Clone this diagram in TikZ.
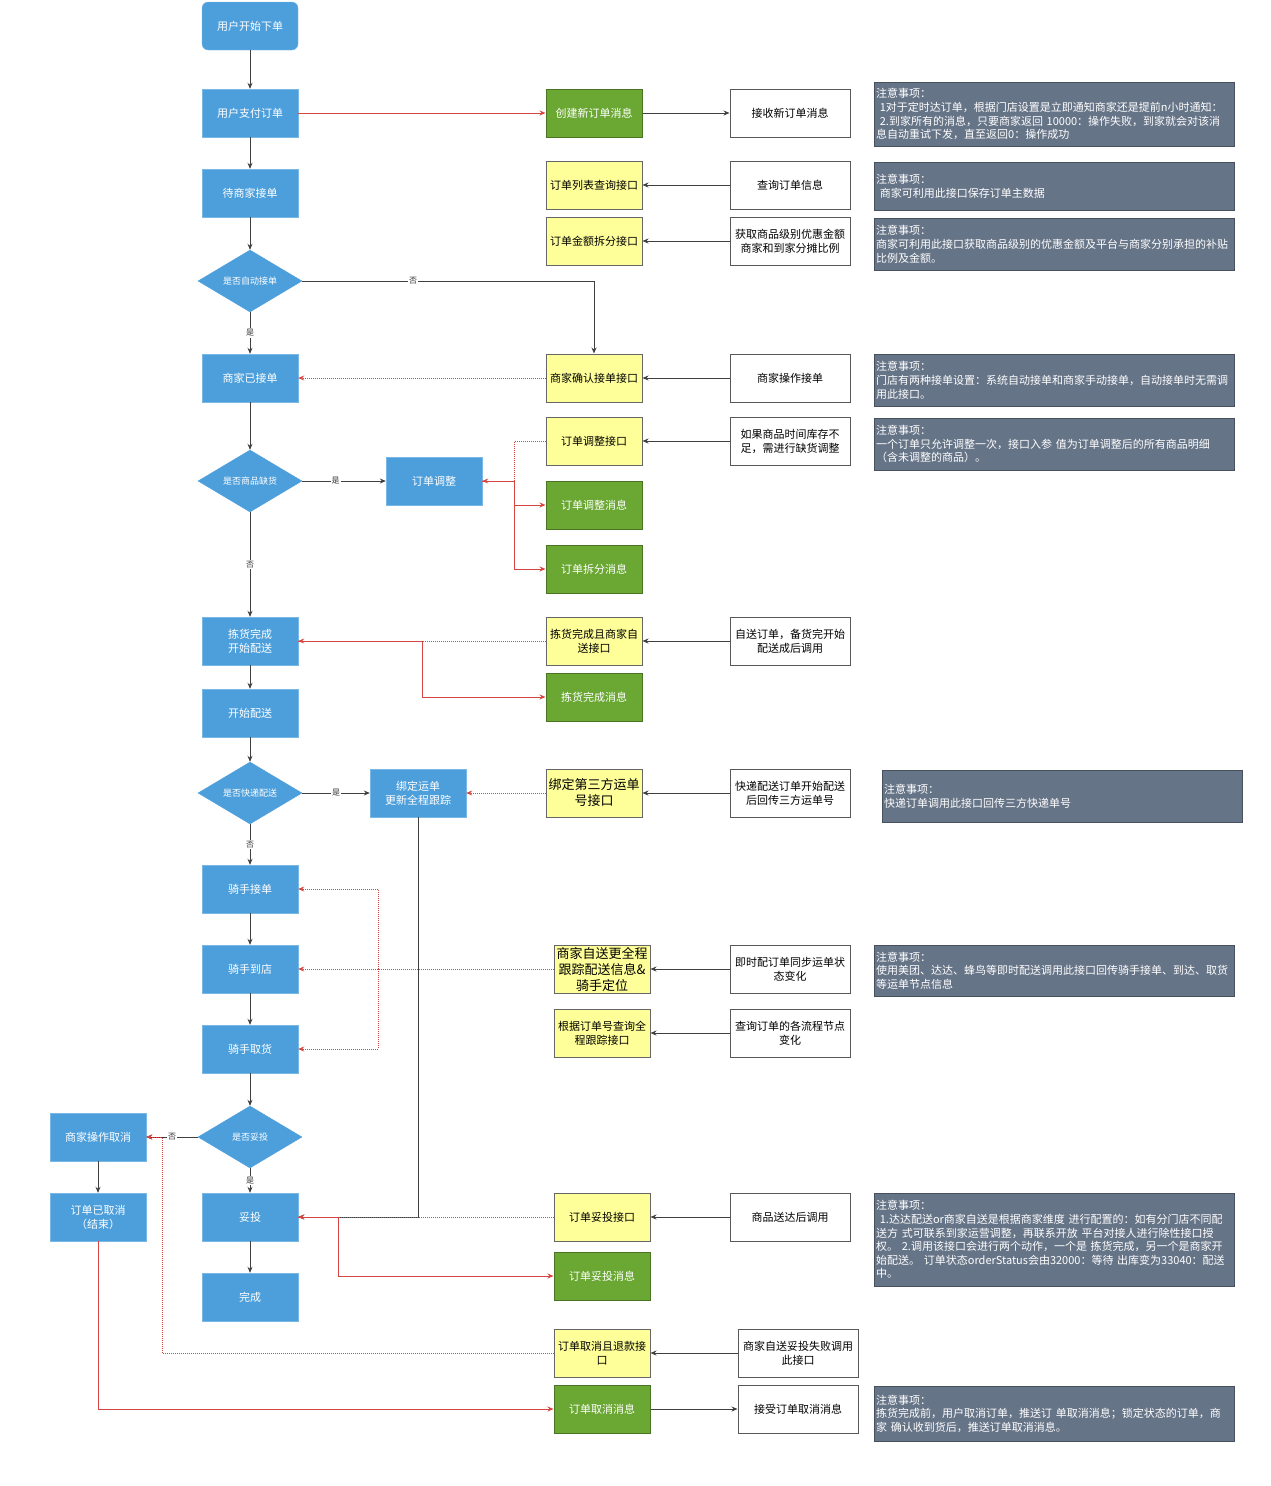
\documentclass[tikz,border=0pt]{standalone}
\usepackage{fontspec}
\setmainfont{Noto Sans CJK SC}
\usetikzlibrary{arrows.meta,shapes.geometric,positioning}

\definecolor{flowblue}{HTML}{4D9FDC}
\definecolor{msggreen}{HTML}{6BA733}
\definecolor{apiyellow}{HTML}{FFFF99}
\definecolor{notegray}{HTML}{667487}
\definecolor{linkred}{HTML}{D64541}

\tikzset{
  flow/.style={draw=flowblue!75!white, fill=flowblue, text=white, minimum width=96, minimum height=48, align=center, font=\fontsize{11}{14}\selectfont},
  cond/.style={diamond, draw=flowblue, fill=flowblue, text=white, aspect=1.68, inner sep=0pt, minimum width=104, minimum height=62, font=\fontsize{9}{11}\selectfont},
  api/.style={draw=black!60, line width=1pt, fill=apiyellow, text=black, minimum width=96, minimum height=48, inner sep=1pt, align=center, font=\fontsize{11}{14}\selectfont},
  bigapi/.style={api, font=\fontsize{13}{16}\selectfont},
  msg/.style={draw=msggreen!70!black, line width=1pt, fill=msggreen, text=white, minimum width=96, minimum height=48, align=center, font=\fontsize{11}{14}\selectfont},
  caller/.style={draw=black!65, line width=1pt, fill=white, text=black, minimum width=120, minimum height=48, inner sep=1pt, align=center, font=\fontsize{11}{14}\selectfont},
  note/.style={draw=notegray!70!black, fill=notegray, text=white, anchor=north west, text width=356, inner xsep=2pt, inner ysep=1pt, align=left, font=\fontsize{11}{13.6}\selectfont},
  flowline/.style={draw=black!75, line width=0.9pt, ->},
  redline/.style={draw=linkred, line width=0.9pt, ->},
  reddot/.style={draw=linkred, line width=0.9pt, dash pattern=on 1pt off 1pt, ->},
  yn/.style={fill=white, text=black!80, inner sep=1pt, font=\fontsize{8}{9}\selectfont}
}

\begin{document}
\begin{tikzpicture}[x=1pt, y=-1pt, >={Stealth[length=6pt,width=5pt]}]
\useasboundingbox (0,0) rectangle (1270,1486);

% main flow
\draw (250,26) node [flow, rounded corners=6pt] (start) {用户开始下单};
\draw (250,113) node [flow] (pay) {用户支付订单};
\draw (250,193) node [flow] (wait) {待商家接单};
\draw (250,281) node [cond] (auto) {是否自动接单};
\draw (250,378) node [flow] (accepted) {商家已接单};
\draw (250,481) node [cond] (lack) {是否商品缺货};
\draw (434,481) node [flow] (adjust) {订单调整};
\draw (250,641) node [flow] (picked) {拣货完成\\开始配送};
\draw (250,713) node [flow] (deliver) {开始配送};
\draw (250,793) node [cond] (express) {是否快递配送};
\draw (418,793) node [flow] (bind) {绑定运单\\更新全程跟踪};
\draw (250,889) node [flow] (rtake) {骑手接单};
\draw (250,969) node [flow] (rarrive) {骑手到店};
\draw (250,1049) node [flow] (rpick) {骑手取货};
\draw (250,1137) node [cond] (signcheck) {是否妥投};
\draw (98,1137) node [flow] (mcancel) {商家操作取消};
\draw (98,1217) node [flow] (cancelled) {订单已取消\\（结束）};
\draw (250,1217) node [flow] (signed) {妥投};
\draw (250,1297) node [flow] (finish) {完成};

% interfaces and messages
\draw (594,113) node [msg] (newmsg) {创建新订单消息};
\draw (594,185) node [api] (listapi) {订单列表查询接口};
\draw (594,241) node [api] (splitapi) {订单金额拆分接口};
\draw (594,378) node [api] (confirmapi) {商家确认接单接口};
\draw (594,441) node [api] (adjustapi) {订单调整接口};
\draw (594,505) node [msg] (adjustmsg) {订单调整消息};
\draw (594,569) node [msg] (splitmsg) {订单拆分消息};
\draw (594,641) node [api] (pickapi) {拣货完成且商家自\\送接口};
\draw (594,697) node [msg] (pickmsg) {拣货完成消息};
\draw (594,793) node [bigapi] (waybillapi) {绑定第三方运单\\号接口};
\draw (602,969) node [bigapi] (trackapi) {商家自送更全程\\跟踪配送信息\&\\骑手定位};
\draw (602,1033) node [api] (queryapi) {根据订单号查询全\\程跟踪接口};
\draw (602,1217) node [api] (signapi) {订单妥投接口};
\draw (602,1276) node [msg] (signmsg) {订单妥投消息};
\draw (602,1353) node [api] (cancelapi) {订单取消且退款接\\口};
\draw (602,1409) node [msg] (cancelmsg) {订单取消消息};

% merchant side
\draw (790,113) node [caller] (recvnew) {接收新订单消息};
\draw (790,185) node [caller] (queryorder) {查询订单信息};
\draw (790,241) node [caller] (getdiscount) {获取商品级别优惠金额\\商家和到家分摊比例};
\draw (790,378) node [caller] (manual) {商家操作接单};
\draw (790,441) node [caller] (stockout) {如果商品时间库存不\\足，需进行缺货调整};
\draw (790,641) node [caller] (selfsend) {自送订单，备货完开始\\配送成后调用};
\draw (790,793) node [caller] (expresscall) {快递配送订单开始配送\\后回传三方运单号};
\draw (790,969) node [caller] (instant) {即时配订单同步运单状\\态变化};
\draw (790,1033) node [caller] (nodechange) {查询订单的各流程节点\\变化};
\draw (790,1217) node [caller] (arrived) {商品送达后调用};
\draw (798,1353) node [caller] (signfail) {商家自送妥投失败调用\\此接口};
\draw (798,1409) node [caller] (recvcancel) {接受订单取消消息};

% notes
\draw (874,82) node [note, minimum height=64] (note1) {注意事项：\\\ 1对于定时达订单，根据门店设置是立即通知商家还是提前n小时通知：\\\ 2.到家所有的消息，只要商家返回 10000：操作失败，到家就会对该消\\息自动重试下发，直至返回0：操作成功};
\draw (874,162) node [note, minimum height=48] (note2) {注意事项：\\\ 商家可利用此接口保存订单主数据};
\draw (874,218) node [note, minimum height=52] (note3) {注意事项：\\商家可利用此接口获取商品级别的优惠金额及平台与商家分别承担的补贴\\比例及金额。};
\draw (874,354) node [note, minimum height=52] (note4) {注意事项：\\门店有两种接单设置：系统自动接单和商家手动接单，自动接单时无需调\\用此接口。};
\draw (874,418) node [note, minimum height=52] (note5) {注意事项：\\一个订单只允许调整一次，接口入参 值为订单调整后的所有商品明细\\（含未调整的商品）。};
\draw (882,770) node [note, minimum height=52] (note6) {注意事项：\\快递订单调用此接口回传三方快递单号};
\draw (874,945) node [note, minimum height=51] (note7) {注意事项：\\使用美团、达达、蜂鸟等即时配送调用此接口回传骑手接单、到达、取货\\等运单节点信息};
\draw (874,1193) node [note, minimum height=93] (note8) {注意事项：\\\ 1.达达配送or商家自送是根据商家维度 进行配置的：如有分门店不同配\\送方 式可联系到家运营调整，再联系开放 平台对接人进行除性接口授\\权。 2.调用该接口会进行两个动作，一个是 拣货完成，另一个是商家开\\始配送。 订单状态orderStatus会由32000：等待 出库变为33040：配送\\中。};
\draw (874,1386) node [note, minimum height=55] (note9) {注意事项：\\拣货完成前，用户取消订单，推送订 单取消消息；锁定状态的订单，商\\家 确认收到货后，推送订单取消消息。};

\coordinate (adjfork) at (514,481);
\coordinate (pickfork) at (422,641);
\coordinate (trackfork) at (378,969);
\coordinate (signfork) at (338,1217);
\coordinate (cancelfork) at (162,1137);

% black connectors
\draw [flowline]
  (start) edge (pay)
  (pay) edge (wait)
  (wait) edge (auto)
  (auto) edge node [yn] {是} (accepted)
  (accepted) edge (lack)
  (lack) edge node [yn, pos=0.4] {是} (adjust)
  (lack) edge node [yn] {否} (picked)
  (picked) edge (deliver)
  (deliver) edge (express)
  (express) edge node [yn] {是} (bind)
  (express) edge node [yn] {否} (rtake)
  (rtake) edge (rarrive)
  (rarrive) edge (rpick)
  (rpick) edge (signcheck)
  (signcheck) edge node [yn] {是} (signed)
  (signcheck) edge node [yn] {否} (mcancel)
  (mcancel) edge (cancelled)
  (signed) edge (finish)
  (newmsg) edge (recvnew)
  (queryorder) edge (listapi)
  (getdiscount) edge (splitapi)
  (manual) edge (confirmapi)
  (stockout) edge (adjustapi)
  (selfsend) edge (pickapi)
  (expresscall) edge (waybillapi)
  (instant) edge (trackapi)
  (nodechange) edge (queryapi)
  (arrived) edge (signapi)
  (signfail) edge (cancelapi)
  (cancelmsg) edge (recvcancel)
;
\draw [flowline] (auto) -| node [yn, pos=0.19] {否} (confirmapi);
\draw [flowline] (bind) |- (signed);

% red connectors
\draw [redline] (pay) -- (newmsg);
\draw [redline] (adjust) -- (adjfork) |- (adjustmsg);
\draw [redline] (adjfork) |- (splitmsg);
\draw [redline] (picked) -- (pickfork) |- (pickmsg);
\draw [redline] (signed) -- (signfork) |- (signmsg);
\draw [redline] (cancelled) |- (cancelmsg);
\draw [reddot] (confirmapi) -- (accepted);
\draw [reddot] (adjustapi) -| (adjfork) -- (adjust);
\draw [reddot] (pickapi) -- (picked);
\draw [reddot] (waybillapi) -- (bind);
\draw [reddot] (trackapi) -- (rarrive);
\draw [reddot] (trackfork) |- (rtake);
\draw [reddot] (trackfork) |- (rpick);
\draw [reddot] (signapi) -- (signed);
\draw [reddot] (cancelapi) -| (cancelfork) -- (mcancel);
\end{tikzpicture}
\end{document}
